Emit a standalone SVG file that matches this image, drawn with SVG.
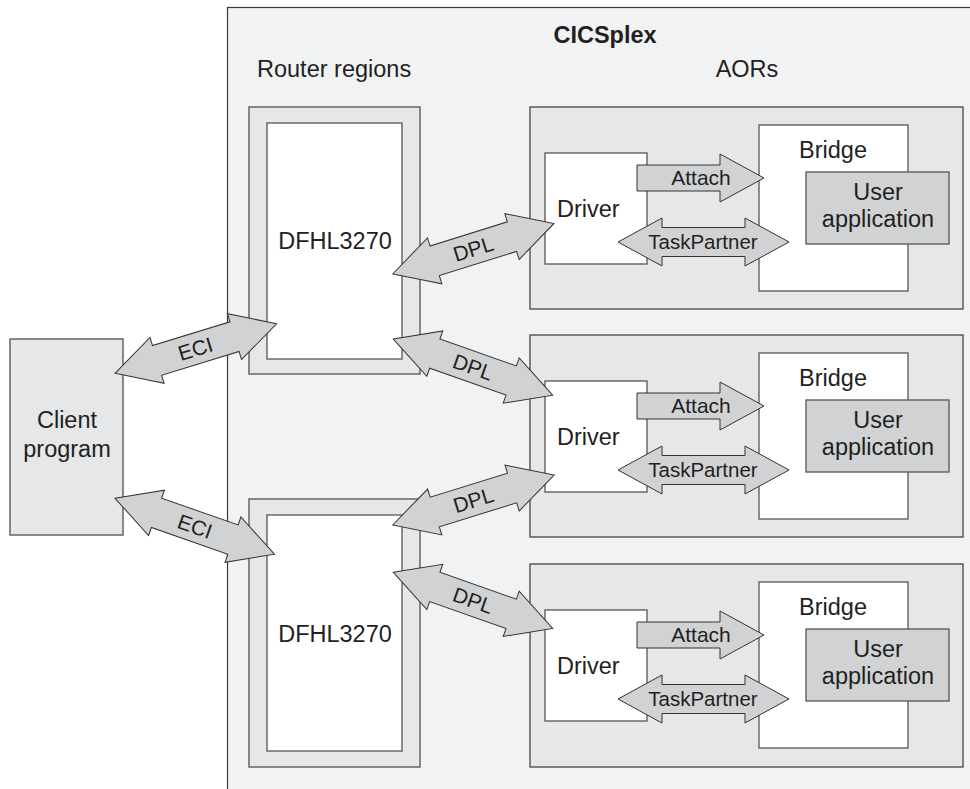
<svg xmlns="http://www.w3.org/2000/svg" xmlns:xlink="http://www.w3.org/1999/xlink" width="970" height="789" viewBox="0 0 970 789">
<style>
text{font-family:"Liberation Sans",Arial,sans-serif;fill:#231f20}
.t{font-size:23.5px}
.s{font-size:21px}
.plex{fill:#f1f2f4;stroke:#3a3a3a;stroke-width:1.2}
.outer{fill:#e6e7e9;stroke:#666;stroke-width:1.5}
.white{fill:#fff;stroke:#555;stroke-width:1.3}
.aor{fill:#e6e7e9;stroke:#444;stroke-width:1.3}
.app{fill:#d1d2d4;stroke:#555;stroke-width:1.3}
.arr{fill:#d1d2d4;stroke:#333;stroke-width:1}
</style>
<defs>
<path id="dbl" d="M0,0 L44,-24 L44,-15.5 L125,-15.5 L125,-24 L169,0 L125,24 L125,15.5 L44,15.5 L44,24 Z"/>
</defs>
<g id="cicsplex">
<rect class="plex" x="227.5" y="7.5" width="800" height="800"/>
<text x="605" y="43" text-anchor="middle" style="font-size:23.5px;font-weight:bold">CICSplex</text>
<text class="t" x="257" y="77">Router regions</text>
<text class="t" x="747" y="77" text-anchor="middle">AORs</text>
</g>
<g id="client">
<rect class="outer" x="10" y="339" width="113" height="196"/>
<text class="t" x="67" y="428" text-anchor="middle">Client</text>
<text class="t" x="67" y="457" text-anchor="middle">program</text>
</g>
<g id="router1">
<rect class="outer" x="249" y="107" width="171" height="267"/>
<rect class="white" x="267" y="123" width="135" height="236"/>
<text class="t" x="335" y="249" text-anchor="middle">DFHL3270</text>
</g>
<g id="router2">
<rect class="outer" x="249" y="499" width="171" height="268"/>
<rect class="white" x="267" y="515" width="135" height="236"/>
<text class="t" x="335" y="642" text-anchor="middle">DFHL3270</text>
</g>
<g id="aor1">
<rect class="aor" x="530" y="107" width="433" height="202"/>
<rect class="white" x="545" y="153" width="102" height="111"/>
<text class="t" x="557" y="217">Driver</text>
<rect class="white" x="759" y="125" width="149" height="166"/>
<text class="t" x="833" y="158" text-anchor="middle">Bridge</text>
<rect class="app" x="806" y="172" width="143" height="72"/>
<text class="t" x="878" y="200" text-anchor="middle">User</text>
<text class="t" x="878" y="227" text-anchor="middle">application</text>
</g>
<g id="aor2">
<rect class="aor" x="530" y="335" width="433" height="202"/>
<rect class="white" x="545" y="381" width="102" height="111"/>
<text class="t" x="557" y="445">Driver</text>
<rect class="white" x="759" y="353" width="149" height="166"/>
<text class="t" x="833" y="386" text-anchor="middle">Bridge</text>
<rect class="app" x="806" y="400" width="143" height="72"/>
<text class="t" x="878" y="428" text-anchor="middle">User</text>
<text class="t" x="878" y="455" text-anchor="middle">application</text>
</g>
<g id="aor3">
<rect class="aor" x="530" y="564" width="433" height="203"/>
<rect class="white" x="545" y="610" width="102" height="111"/>
<text class="t" x="557" y="674">Driver</text>
<rect class="white" x="759" y="582" width="149" height="166"/>
<text class="t" x="833" y="615" text-anchor="middle">Bridge</text>
<rect class="app" x="806" y="629" width="143" height="72"/>
<text class="t" x="878" y="657" text-anchor="middle">User</text>
<text class="t" x="878" y="684" text-anchor="middle">application</text>
</g>
<g id="connectors">
<use xlink:href="#dbl" class="arr" transform="translate(115,373.3) rotate(-17.05)"/>
<text class="s" transform="translate(195.3,348.7) rotate(-17.05)" y="7.5" text-anchor="middle">ECI</text>
<use xlink:href="#dbl" class="arr" transform="translate(115,498.3) rotate(19.3)"/>
<text class="s" transform="translate(195,526.3) rotate(19.3)" y="7.5" text-anchor="middle">ECI</text>
<use xlink:href="#dbl" class="arr" transform="translate(392.7,274) rotate(-17.4)"/>
<text class="s" transform="translate(473.3,248.7) rotate(-17.4)" y="7.5" text-anchor="middle">DPL</text>
<use xlink:href="#dbl" class="arr" transform="translate(393.3,339) rotate(19.4)"/>
<text class="s" transform="translate(473,367) rotate(19.4)" y="7.5" text-anchor="middle">DPL</text>
<use xlink:href="#dbl" class="arr" transform="translate(392.7,525) rotate(-17.2)"/>
<text class="s" transform="translate(473.3,500) rotate(-17.2)" y="7.5" text-anchor="middle">DPL</text>
<use xlink:href="#dbl" class="arr" transform="translate(393.3,572.3) rotate(19.4)"/>
<text class="s" transform="translate(473,600.3) rotate(19.4)" y="7.5" text-anchor="middle">DPL</text>

<path class="arr" d="M637,165 L720,165 L720,154 L764,178 L720,202 L720,191 L637,191 Z"/>
<text class="s" x="701" y="185" text-anchor="middle">Attach</text>
<path class="arr" d="M618,242 L662,218 L662,227.5 L745,227.5 L745,218 L789,242 L745,266 L745,256.5 L662,256.5 L662,266 Z"/>
<text style="font-size:20.5px" x="703" y="249" text-anchor="middle">TaskPartner</text>

<path class="arr" d="M637,393 L720,393 L720,382 L764,406 L720,430 L720,419 L637,419 Z"/>
<text class="s" x="701" y="413" text-anchor="middle">Attach</text>
<path class="arr" d="M618,470 L662,446 L662,455.5 L745,455.5 L745,446 L789,470 L745,494 L745,484.5 L662,484.5 L662,494 Z"/>
<text style="font-size:20.5px" x="703" y="477" text-anchor="middle">TaskPartner</text>

<path class="arr" d="M637,622 L720,622 L720,611 L764,635 L720,659 L720,648 L637,648 Z"/>
<text class="s" x="701" y="642" text-anchor="middle">Attach</text>
<path class="arr" d="M618,699 L662,675 L662,684.5 L745,684.5 L745,675 L789,699 L745,723 L745,713.5 L662,713.5 L662,723 Z"/>
<text style="font-size:20.5px" x="703" y="706" text-anchor="middle">TaskPartner</text>
</g>
</svg>
